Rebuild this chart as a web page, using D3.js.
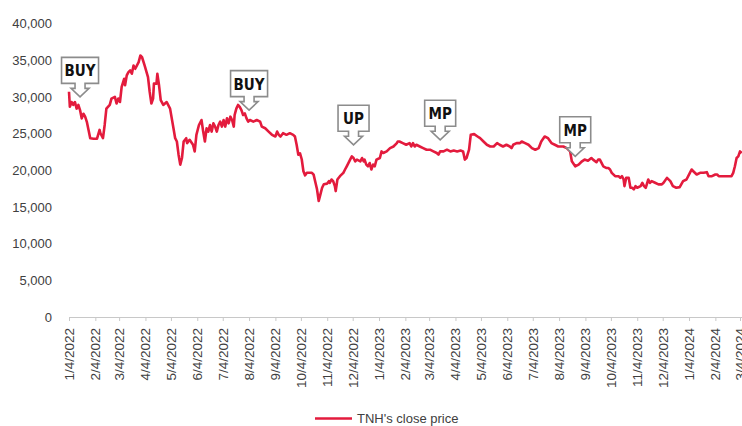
<!DOCTYPE html>
<html>
<head>
<meta charset="utf-8">
<script src="https://cdn.jsdelivr.net/npm/d3@7"></script>
<style>
  html, body { margin: 0; padding: 0; background: #fff; }
  svg text { font-family: "Liberation Sans", Arial, sans-serif; fill: #404040; }
  .callout text { font-family: "Liberation Sans Narrow", "Arial Narrow", "DejaVu Sans Condensed", sans-serif; font-weight: bold; fill: #111; }
</style>
</head>
<body>
<svg id="chart" width="742" height="426"></svg>
<script>
// TNH close price with broker signals

var priceDates = [
  "2022-01-04","2022-01-05","2022-01-07","2022-01-09","2022-01-11","2022-01-13","2022-01-15","2022-01-17",
  "2022-01-19","2022-01-21","2022-01-23","2022-01-25","2022-01-27","2022-01-29","2022-02-02","2022-02-06",
  "2022-02-09","2022-02-10","2022-02-13","2022-02-15","2022-02-17","2022-02-21","2022-02-23","2022-02-27",
  "2022-03-01","2022-03-03","2022-03-05","2022-03-07","2022-03-10","2022-03-11","2022-03-13","2022-03-15",
  "2022-03-17","2022-03-19","2022-03-21","2022-03-23","2022-03-27","2022-03-29","2022-03-31","2022-04-03",
  "2022-04-07","2022-04-09","2022-04-11","2022-04-13","2022-04-14","2022-04-17","2022-04-18","2022-04-20",
  "2022-04-22","2022-04-25","2022-04-29","2022-05-03","2022-05-07","2022-05-09","2022-05-11","2022-05-13",
  "2022-05-15","2022-05-17","2022-05-19","2022-05-22","2022-05-23","2022-05-26","2022-05-30","2022-06-01",
  "2022-06-03","2022-06-06","2022-06-09","2022-06-11","2022-06-13","2022-06-15","2022-06-17","2022-06-19",
  "2022-06-21","2022-06-23","2022-06-25","2022-06-27","2022-06-29","2022-07-01","2022-07-03","2022-07-05",
  "2022-07-07","2022-07-09","2022-07-11","2022-07-13","2022-07-15","2022-07-17","2022-07-18","2022-07-20",
  "2022-07-22","2022-07-24","2022-07-26","2022-07-28","2022-07-30","2022-08-01","2022-08-03","2022-08-05",
  "2022-08-09","2022-08-13","2022-08-17","2022-08-19","2022-08-23","2022-08-27","2022-08-31","2022-09-04",
  "2022-09-06","2022-09-08","2022-09-10","2022-09-13","2022-09-17","2022-09-21","2022-09-25","2022-09-27",
  "2022-09-29","2022-10-01","2022-10-03","2022-10-05","2022-10-07","2022-10-09","2022-10-11","2022-10-17",
  "2022-10-19","2022-10-21","2022-10-23","2022-10-25","2022-10-27","2022-10-29","2022-10-31","2022-11-04",
  "2022-11-06","2022-11-07","2022-11-09","2022-11-11","2022-11-13","2022-11-14","2022-11-16","2022-11-19",
  "2022-11-23","2022-11-25","2022-11-27","2022-12-01","2022-12-03","2022-12-05","2022-12-07","2022-12-09",
  "2022-12-13","2022-12-15","2022-12-17","2022-12-18","2022-12-20","2022-12-22","2022-12-24","2022-12-26",
  "2022-12-28","2022-12-30","2023-01-01","2023-01-05","2023-01-07","2023-01-09","2023-01-13","2023-01-17",
  "2023-01-21","2023-01-25","2023-01-26","2023-01-28","2023-02-01","2023-02-05","2023-02-09","2023-02-11",
  "2023-02-13","2023-02-15","2023-02-17","2023-02-21","2023-02-25","2023-03-01","2023-03-05","2023-03-09",
  "2023-03-13","2023-03-15","2023-03-17","2023-03-21","2023-03-25","2023-03-29","2023-04-02","2023-04-06",
  "2023-04-10","2023-04-13","2023-04-15","2023-04-17","2023-04-20","2023-04-22","2023-04-26","2023-04-30",
  "2023-05-03","2023-05-07","2023-05-11","2023-05-15","2023-05-19","2023-05-23","2023-05-26","2023-05-30",
  "2023-06-03","2023-06-07","2023-06-09","2023-06-11","2023-06-15","2023-06-19","2023-06-21","2023-06-25",
  "2023-06-29","2023-07-03","2023-07-07","2023-07-11","2023-07-14","2023-07-18","2023-07-22","2023-07-26",
  "2023-07-30","2023-08-03","2023-08-09","2023-08-13","2023-08-17","2023-08-19","2023-08-23","2023-08-27",
  "2023-08-31","2023-09-03","2023-09-07","2023-09-11","2023-09-13","2023-09-17","2023-09-19","2023-09-21",
  "2023-09-23","2023-09-25","2023-09-29","2023-10-01","2023-10-03","2023-10-05","2023-10-09","2023-10-13",
  "2023-10-15","2023-10-17","2023-10-19","2023-10-20","2023-10-22","2023-10-25","2023-10-27","2023-10-29",
  "2023-10-31","2023-11-02","2023-11-04","2023-11-08","2023-11-10","2023-11-12","2023-11-14","2023-11-17",
  "2023-11-19","2023-11-21","2023-11-25","2023-11-29","2023-12-03","2023-12-05","2023-12-09","2023-12-13",
  "2023-12-16","2023-12-20","2023-12-24","2023-12-28","2024-01-01","2024-01-05","2024-01-07","2024-01-09",
  "2024-01-13","2024-01-17","2024-01-21","2024-01-25","2024-01-27","2024-01-31","2024-02-04","2024-02-06",
  "2024-02-08","2024-02-12","2024-02-17","2024-02-23","2024-02-25","2024-02-27","2024-02-29","2024-03-02",
  "2024-03-04","2024-03-06"
];

var closePrices = [
  30700,28650,29300,28900,29300,28400,28900,28200,
  27070,27700,27300,26600,25500,24370,24300,24300,
  25500,25040,24370,26170,28400,28900,29770,30000,
  29100,29770,29300,31350,32470,31580,32930,33380,
  33600,33150,34280,33830,34730,35640,35400,34280,
  32700,30680,29100,29770,31800,31800,33150,31580,
  29550,28900,29300,28400,25720,24370,23920,22120,
  20770,21670,23920,24370,23700,24150,23470,22570,
  24830,26170,26850,25270,23920,25720,25270,26170,
  25270,26400,25950,25270,26170,26620,25950,26850,
  25950,27070,26400,27300,26850,25950,27530,28400,
  28900,28650,28200,27530,27750,27070,26620,26850,
  26620,26850,26620,25950,25720,25270,24830,24600,
  25270,24830,24600,25050,24830,25050,24830,24600,
  23470,22120,22300,21500,19870,19300,19650,19650,
  19400,18400,17400,15810,16710,17610,18100,18180,
  18510,18290,18740,18510,17840,17160,18740,19190,
  19650,20100,20540,21450,21890,21670,21220,21450,
  21220,21670,21220,21450,20770,20540,20990,20100,
  20770,20540,21450,21670,22570,22350,22570,23020,
  23240,23700,23920,23920,23700,23470,23700,23240,
  23700,23240,23470,23240,23020,22800,22800,22570,
  22350,22120,22570,22570,22800,22570,22680,22570,
  22680,22570,21450,21670,22800,24830,24920,24600,
  24370,23920,23470,23240,23240,23700,23470,23240,
  23470,23240,23020,23470,23700,23700,23920,23700,
  23470,23020,22800,23020,23920,24600,24370,23700,
  23470,23240,23240,23020,22570,21220,20540,20770,
  21220,21450,21300,21670,21450,21100,21450,21450,
  21000,20540,20300,20300,20100,19650,19190,19190,
  18960,19190,18740,17840,18960,18960,17610,17610,
  17390,17840,17610,17840,18290,17840,17610,18740,
  18290,18510,18290,18070,18070,18290,18960,18510,
  17840,17610,17700,18510,18740,19650,20100,19870,
  19420,19650,19650,19740,19190,19190,19420,19420,
  19190,19190,19190,19190,19650,20540,21670,21890,
  22570,22350
];

var yTicks = [0, 5000, 10000, 15000, 20000, 25000, 30000, 35000, 40000];

var signalLabels = ["BUY", "BUY", "UP", "MP", "MP"];
var signalDates = ["2022-01-17", "2022-08-04", "2022-12-05", "2023-03-17", "2023-08-23"];
var signalValues = [30000, 28200, 23470, 24150, 21900];

var legendLabel = "TNH's close price";

var svg = d3.select("#chart");
var parseDate = d3.timeParse("%Y-%m-%d");
var red = "#e31b3d";

var data = priceDates.map((d, i) => ({date: parseDate(d), value: closePrices[i]}));

var x = d3.scaleTime()
    .domain([parseDate("2022-01-04"), parseDate("2024-03-04")])
    .range([69, 740]);

var y = d3.scaleLinear()
    .domain([0, 40000])
    .range([317, 23.5]);

// y labels only, no axis line
var yAxis = svg.append("g")
    .attr("transform", "translate(52,0)")
    .call(d3.axisLeft(y).tickValues(yTicks).tickSize(0).tickPadding(0).tickFormat(d3.format(",")));
yAxis.select(".domain").remove();
yAxis.selectAll("text")
    .attr("font-size", 13)
    .style("font-family", null)
    .attr("fill", "#404040");

// monthly ticks on the 4th
var monthTicks = d3.timeMonth.range(new Date(2022, 0, 1), new Date(2024, 3, 1))
    .map(d => d3.timeDay.offset(d, 3));

var xAxis = svg.append("g")
    .attr("transform", "translate(0,317)")
    .call(d3.axisBottom(x).tickValues(monthTicks).tickSize(4).tickFormat(d3.timeFormat("%-m/%-d/%Y")));
xAxis.select(".domain")
    .attr("d", "M" + x.range()[0] + ",0.5H742")
    .attr("stroke", "#c8c8c8");
xAxis.selectAll(".tick line").attr("stroke", "#c8c8c8");
xAxis.selectAll(".tick text")
    .attr("font-size", 13.5)
    .attr("fill", "#404040")
    .attr("text-anchor", "end")
    .attr("dy", null)
    .attr("dominant-baseline", "central")
    .attr("transform", "translate(0,11) rotate(-90)")
    .attr("x", 0)
    .attr("y", 0);

var line = d3.line()
    .x(d => x(d.date))
    .y(d => y(d.value));

svg.append("path")
    .datum(data)
    .attr("fill", "none")
    .attr("stroke", red)
    .attr("stroke-width", 2.6)
    .attr("stroke-linejoin", "round")
    .attr("d", line);

// down-arrow callouts
var callouts = svg.append("g").attr("class", "callout");
signalLabels.forEach((label, i) => {
    var tx = x(parseDate(signalDates[i]));
    var ty = y(signalValues[i]);
    var w = label.length > 2 ? 37 : 31;
    var h = 26;
    var left = tx - w / 2, right = tx + w / 2;
    var boxBottom = ty - 13.5, headTop = ty - 8.5, top = boxBottom - h;
    var p = d3.path();
    p.moveTo(left, top);
    p.lineTo(right, top);
    p.lineTo(right, boxBottom);
    p.lineTo(tx + 5, boxBottom);
    p.lineTo(tx + 5, headTop);
    p.lineTo(tx + 9, headTop);
    p.lineTo(tx, ty);
    p.lineTo(tx - 9, headTop);
    p.lineTo(tx - 5, headTop);
    p.lineTo(tx - 5, boxBottom);
    p.lineTo(left, boxBottom);
    p.closePath();
    callouts.append("path")
        .attr("d", p.toString())
        .attr("fill", "#fff")
        .attr("stroke", "#8c8c8c")
        .attr("stroke-width", 1.6);
    callouts.append("text")
        .attr("x", tx)
        .attr("y", top + h / 2 + 1)
        .attr("text-anchor", "middle")
        .attr("dominant-baseline", "central")
        .attr("font-size", 15)
        .text(label);
});

// legend
var legend = svg.append("g").attr("transform", "translate(315,418.5)");
legend.append("line")
    .attr("x1", 0).attr("x2", 37)
    .attr("stroke", red)
    .attr("stroke-width", 2.6);
legend.append("text")
    .attr("x", 42)
    .attr("dominant-baseline", "central")
    .attr("font-size", 13)
    .text(legendLabel);
</script>
</body>
</html>
